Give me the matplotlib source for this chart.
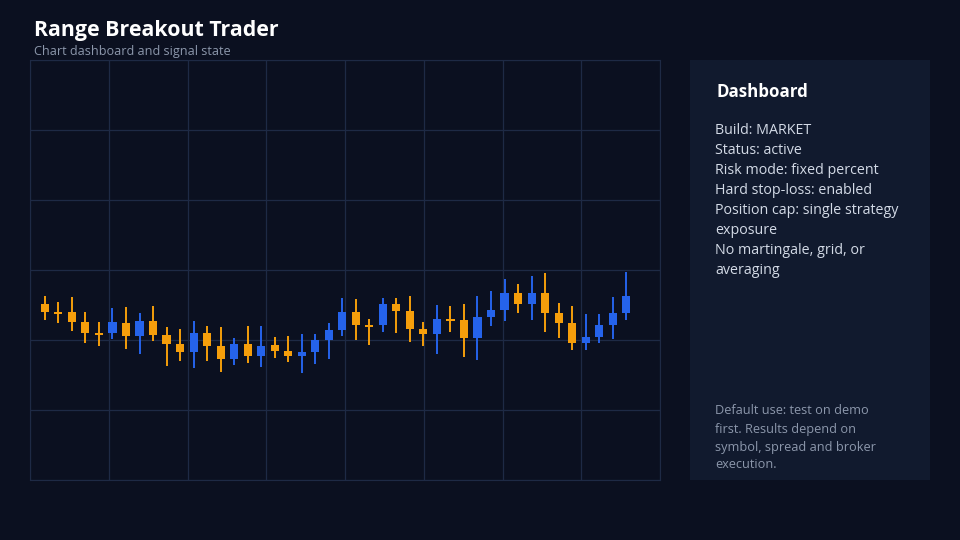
"""
Range Breakout Trader: candlestick chart with dashboard side panel.
"""

import matplotlib.pyplot as plt
from matplotlib.patches import Rectangle

# OHLC values (44 candles)
opens = [125.14, 124.04, 123.96, 122.57, 120.96, 120.96, 122.47, 120.57, 122.71, 120.76,
         119.47, 118.33, 121.04, 119.14, 117.29, 119.47, 117.76, 119.24, 118.43, 117.76,
         118.29, 120.00, 121.39, 123.96, 122.14, 122.14, 125.14, 124.19, 121.57, 120.90,
         123.00, 122.81, 120.33, 123.24, 124.29, 126.76, 125.10, 126.76, 123.81, 122.47,
         119.53, 120.39, 122.10, 123.90]
highs = [126.29, 125.39, 126.10, 123.96, 122.57, 124.61, 124.67, 123.81, 124.81, 121.90,
         121.61, 122.67, 121.96, 121.81, 120.24, 122.00, 122.04, 120.39, 120.53, 120.86,
         120.86, 122.39, 126.00, 125.90, 123.00, 126.00, 126.00, 126.24, 122.57, 124.96,
         124.86, 125.19, 126.29, 127.00, 128.71, 127.96, 129.14, 129.53, 125.24, 124.90,
         123.67, 123.67, 126.19, 129.67]
lows = [122.86, 122.39, 121.29, 119.53, 119.14, 120.10, 118.71, 117.96, 119.81, 116.33,
        117.00, 116.04, 117.00, 115.47, 116.39, 116.67, 116.19, 117.39, 116.81, 115.24,
        116.57, 117.29, 120.57, 120.00, 119.24, 121.19, 121.04, 119.76, 119.14, 117.96,
        121.19, 117.61, 117.14, 122.04, 122.71, 123.90, 122.86, 121.19, 120.24, 118.57,
        118.57, 119.61, 120.19, 122.81]
closes = [124.04, 123.76, 122.57, 121.00, 120.67, 122.53, 120.53, 122.71, 120.76, 119.47,
          118.29, 121.04, 119.14, 117.29, 119.47, 117.76, 119.19, 118.43, 117.76, 118.29,
          120.00, 121.39, 123.96, 122.14, 121.86, 125.14, 124.19, 121.61, 120.90, 122.96,
          122.71, 120.33, 123.24, 124.29, 126.76, 125.10, 126.76, 123.81, 122.47, 119.53,
          120.39, 122.10, 123.90, 126.29]

title = "Range Breakout Trader"
subtitle = "Chart dashboard and signal state"
panel_title = "Dashboard"
panel_lines = [
    "Build: MARKET",
    "Status: active",
    "Risk mode: fixed percent",
    "Hard stop-loss: enabled",
    "Position cap: single strategy",
    "exposure",
    "No martingale, grid, or",
    "averaging",
]
footer_lines = [
    "Default use: test on demo",
    "first. Results depend on",
    "symbol, spread and broker",
    "execution.",
]

BG = '#0b1020'
PANEL = '#111a2e'
GRID = '#1e2a45'
UP = '#2563eb'
DOWN = '#f59e0b'
W, H = 960, 540

plt.rcParams['font.family'] = ['Open Sans', 'DejaVu Sans']

fig = plt.figure(figsize=(9.6, 5.4), dpi=100, facecolor=BG)

# price chart
ax = fig.add_axes([30 / W, 60 / H, 630 / W, 420 / H])
ax.set_facecolor(BG)
for i, (o, h, l, c) in enumerate(zip(opens, highs, lows, closes)):
    col = UP if c >= o else DOWN
    ax.vlines(i, l, h, color=col, lw=1.4, zorder=3)
    body = max(abs(c - o), 0.25)
    ax.add_patch(Rectangle((i - 0.3, min(o, c)), 0.6, body, facecolor=col,
                           edgecolor='none', zorder=4))
ax.set_xlim(-1.1, 45.5)
ax.set_ylim(100, 160)
ax.set_xticks([-1.1 + k * 46.6 / 8 for k in range(9)])
ax.set_yticks(range(100, 161, 10))
ax.grid(color=GRID, lw=0.9)
ax.tick_params(length=0, labelbottom=False, labelleft=False)
for s in ax.spines.values():
    s.set_color(GRID)

# titles
fig.text(34 / W, 1 - 31 / H, title, color='white', fontsize=15.4, fontweight='bold', va='center')
fig.text(34 / W, 1 - 52 / H, subtitle, color='#8c97ab', fontsize=9.1, va='center')

# dashboard panel
fig.patches.append(Rectangle((690 / W, 60 / H), 240 / W, 420 / H, facecolor=PANEL,
                             edgecolor='none', transform=fig.transFigure, zorder=0))
fig.text(716 / W, 1 - 92 / H, panel_title, color='white', fontsize=12.2, fontweight='bold',
         va='center')
for k, line in enumerate(panel_lines):
    fig.text(715 / W, 1 - (130 + 20 * k) / H, line, color='#d3dae6', fontsize=10.3,
             va='center')
for k, line in enumerate(footer_lines):
    fig.text(715 / W, 1 - (411 + 18 * k) / H, line, color='#8c97ab', fontsize=9.2,
             va='center')

fig.savefig('out.png', dpi=100, facecolor=BG)
